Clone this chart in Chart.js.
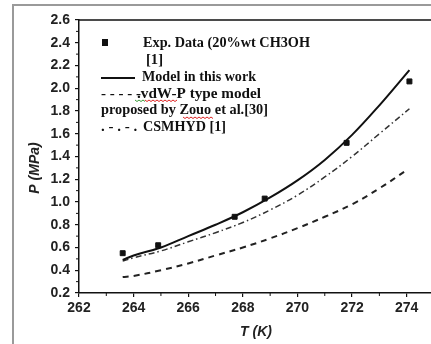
<!DOCTYPE html>
<html>
<head>
<meta charset="utf-8">
<script src="https://cdn.jsdelivr.net/npm/chart.js@4.4.0/dist/chart.umd.min.js"></script>
<style>
    html, body { margin: 0; padding: 0; background: #fff; overflow: hidden; }
    #frame { position: absolute; left: 12px; top: 4px; width: 430px; height: 350px;
             border-left: 2px solid #9a9a9a; border-top: 2px solid #9a9a9a; }
    #wrap { position: absolute; left: 0; top: 0; width: 445px; height: 344px; }
</style>
</head>
<body>
<div id="frame"></div>
<div id="wrap"><canvas id="hydrateChart"></canvas></div>
<script>
// experimental points (20 wt% CH3OH)
const expT = [263.6, 264.9, 267.7, 268.8, 271.8, 274.1];
const expP = [0.55, 0.62, 0.87, 1.03, 1.52, 2.06];

// model in this work
const modelT = [263.6, 264, 265, 266, 267, 268, 269, 270, 271, 272, 273, 274.1];
const modelP = [0.49, 0.53, 0.60, 0.70, 0.80, 0.91, 1.04, 1.19, 1.37, 1.59, 1.85, 2.16];

// vdW-P type model (Zouo et al.)
const vdwT = [263.6, 264, 265, 266, 267, 268, 269, 270, 271, 272, 273, 274];
const vdwP = [0.34, 0.35, 0.40, 0.46, 0.53, 0.60, 0.68, 0.77, 0.87, 0.98, 1.12, 1.28];

// CSMHYD
const csmT = [263.6, 264, 265, 266, 267, 268, 269, 270, 271, 272, 273, 274.1];
const csmP = [0.48, 0.51, 0.57, 0.65, 0.73, 0.82, 0.93, 1.06, 1.22, 1.40, 1.60, 1.82];

const xTicks = [262, 264, 266, 268, 270, 272, 274];
const xMinor = [263, 265, 267, 269, 271, 273];
const yTicks = [0.2, 0.4, 0.6, 0.8, 1.0, 1.2, 1.4, 1.6, 1.8, 2.0, 2.2, 2.4, 2.6];

const legendLines = [
    { sample: "box", text: "Exp. Data (20%wt CH3OH", x: 143, y: 43, w: 167 },
    { sample: "", text: "[1]", x: 146, y: 60, w: 17 },
    { sample: "line", text: "Model in this work", x: 142, y: 77, w: 114 },
    { sample: "- - - - -", text: ".vdW-P type model", x: 137, y: 94, w: 124 },
    { sample: "", text: "proposed by Zouo et al.[30]", x: 101, y: 110, w: 167 },
    { sample: ". - . - .", text: "CSMHYD [1]", x: 143, y: 127, w: 83 }
];

function toPoints(xs, ys) {
    return xs.map((x, i) => ({ x: x, y: ys[i] }));
}

const paperPlugin = {
    id: "paper",
    afterDraw(chart) {
        const ctx = chart.ctx;
        const area = chart.chartArea;
        const xs = chart.scales.x;
        const ys = chart.scales.y;
        ctx.save();

        // top frame line of the plot box
        ctx.strokeStyle = "#111";
        ctx.lineWidth = 1.5;
        ctx.beginPath();
        ctx.moveTo(area.left, area.top);
        ctx.lineTo(area.right, area.top);
        ctx.lineTo(area.right, area.bottom);
        ctx.stroke();

        // minor ticks, pointing outwards like the major ones
        ctx.lineWidth = 1;
        xMinor.forEach(v => {
            const px = xs.getPixelForValue(v);
            ctx.beginPath();
            ctx.moveTo(px, area.bottom);
            ctx.lineTo(px, area.bottom + 3);
            ctx.stroke();
        });
        for (let i = 0; i < yTicks.length - 1; i++) {
            const py = ys.getPixelForValue((yTicks[i] + yTicks[i + 1]) / 2);
            ctx.beginPath();
            ctx.moveTo(area.left, py);
            ctx.lineTo(area.left - 3, py);
            ctx.stroke();
        }

        // axis titles
        ctx.fillStyle = "#222";
        ctx.font = "italic bold 14px 'Liberation Sans', Arial, sans-serif";
        ctx.textAlign = "center";
        ctx.textBaseline = "middle";
        ctx.fillText("T (K)", 256, 332);
        ctx.save();
        ctx.translate(35, 168);
        ctx.rotate(-Math.PI / 2);
        ctx.fillText("P (MPa)", 0, 0);
        ctx.restore();

        // legend text, stretched to the widths of the scanned original
        ctx.fillStyle = "#111";
        ctx.textAlign = "left";
        ctx.font = "bold 15px 'Liberation Serif', 'Times New Roman', serif";
        legendLines.forEach(item => {
            const natural = ctx.measureText(item.text).width;
            ctx.save();
            ctx.translate(item.x, item.y);
            ctx.scale(item.w / natural, 1);
            ctx.fillText(item.text, 0, 0);
            ctx.restore();
            if (item.sample === "line") {
                ctx.strokeStyle = "#111";
                ctx.lineWidth = 2;
                ctx.beginPath();
                ctx.moveTo(101, item.y + 1);
                ctx.lineTo(135, item.y + 1);
                ctx.stroke();
            } else if (item.sample === "box") {
                ctx.fillRect(102, item.y - 4, 6, 7);
            } else if (item.sample) {
                ctx.fillText(item.sample, 101, item.y);
            }
        });

        // spell-check squiggles from the original document
        function squiggle(x0, x1, y, color) {
            ctx.strokeStyle = color;
            ctx.lineWidth = 1;
            ctx.beginPath();
            for (let x = x0, k = 0; x <= x1; x += 2, k++) {
                const yy = y + (k % 2 ? 1.5 : 0);
                if (k === 0) ctx.moveTo(x, yy); else ctx.lineTo(x, yy);
            }
            ctx.stroke();
        }
        squiggle(135, 145, 100, "#3a9a3a");
        squiggle(145, 177, 100, "#d22");
        squiggle(183, 213, 117, "#d22");

        ctx.restore();
    }
};

function createChart() {
    const ctx = document.getElementById("hydrateChart").getContext("2d");

    new Chart(ctx, {
        type: "scatter",
        data: {
            datasets: [
                {
                    label: "Exp. Data",
                    data: toPoints(expT, expP),
                    pointStyle: "rect",
                    pointRadius: 3.5,
                    backgroundColor: "#111",
                    borderColor: "#111",
                    showLine: false
                },
                {
                    label: "Model in this work",
                    data: toPoints(modelT, modelP),
                    showLine: true,
                    pointRadius: 0,
                    borderColor: "#111",
                    borderWidth: 2,
                    tension: 0.4
                },
                {
                    label: "vdW-P type model",
                    data: toPoints(vdwT, vdwP),
                    showLine: true,
                    pointRadius: 0,
                    borderColor: "#222",
                    borderWidth: 2,
                    borderDash: [6, 5],
                    tension: 0.4
                },
                {
                    label: "CSMHYD",
                    data: toPoints(csmT, csmP),
                    showLine: true,
                    pointRadius: 0,
                    borderColor: "#333",
                    borderWidth: 1.5,
                    borderDash: [6, 3, 1.5, 3],
                    tension: 0.4
                }
            ]
        },
        options: {
            responsive: false,
            animation: false,
            layout: { padding: { left: 0, top: 20, right: 11, bottom: 0 } },
            plugins: {
                legend: { display: false },
                tooltip: { enabled: false }
            },
            scales: {
                x: {
                    type: "linear",
                    min: 262,
                    max: 275,
                    afterFit: s => { s.height = 51; },
                    afterBuildTicks: s => { s.ticks = xTicks.map(v => ({ value: v })); },
                    grid: { drawOnChartArea: false, drawTicks: true, tickLength: 4, color: "#111", lineWidth: 1.2 },
                    border: { display: true, color: "#111", width: 1.5 },
                    ticks: {
                        color: "#222",
                        padding: 3,
                        maxRotation: 0,
                        font: { family: "'Liberation Sans', Arial, sans-serif", size: 14, weight: "bold" }
                    }
                },
                y: {
                    min: 0.2,
                    max: 2.6,
                    afterFit: s => { s.width = 79; },
                    afterBuildTicks: s => { s.ticks = yTicks.map(v => ({ value: v })); },
                    grid: { drawOnChartArea: false, drawTicks: true, tickLength: 4, color: "#111", lineWidth: 1.2 },
                    border: { display: true, color: "#111", width: 1.5 },
                    ticks: {
                        color: "#222",
                        padding: 5,
                        callback: v => v.toFixed(1),
                        font: { family: "'Liberation Sans', Arial, sans-serif", size: 14, weight: "bold" }
                    }
                }
            }
        },
        plugins: [paperPlugin]
    });
}

const cv = document.getElementById("hydrateChart");
cv.width = 445;
cv.height = 344;
cv.style.width = "445px";
cv.style.height = "344px";
window.onload = createChart;
</script>
</body>
</html>
